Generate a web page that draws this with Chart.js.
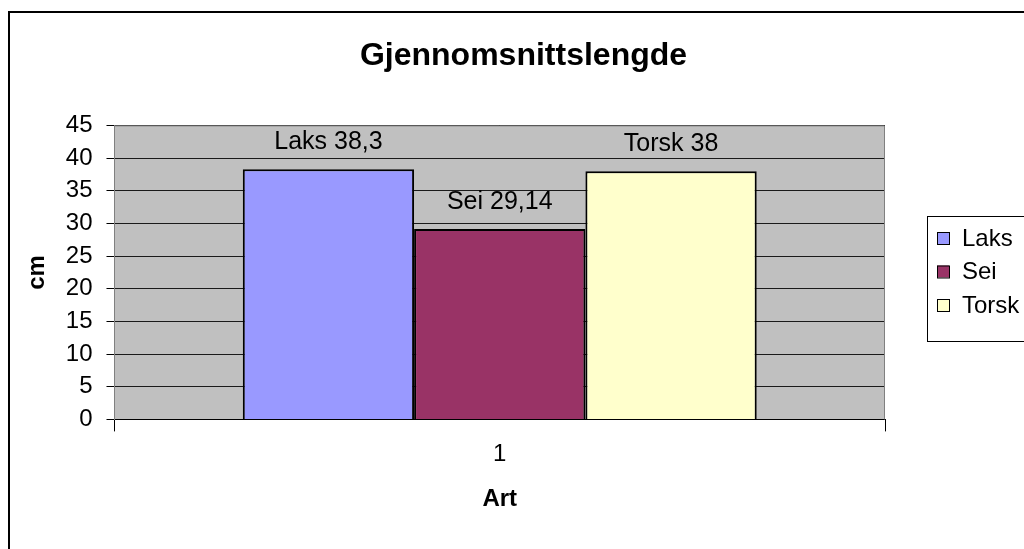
<!DOCTYPE html>
<html>
<head>
<meta charset="utf-8">
<script src="https://cdn.jsdelivr.net/npm/chart.js@4.4.0/dist/chart.umd.min.js"></script>
<style>
  body { margin: 0; background: #fff; }
  #wrap { width: 1024px; height: 549px; }
</style>
</head>
<body>
<div id="wrap"><canvas id="chart" width="1024" height="549"></canvas></div>
<script>
// Data
const categories = ['1'];
const seriesNames = ['Laks', 'Sei', 'Torsk'];
const laksValues = [38.3];
const seiValues = [29.14];
const torskValues = [38];
const yTicks = [0, 5, 10, 15, 20, 25, 30, 35, 40, 45];

const seriesColors = ['#9999FF', '#993366', '#FFFFCC'];
const FONT = "'Liberation Sans', Arial, sans-serif";

// Grå plottflate + ramme rundt hele diagrammet
const backgroundPlugin = {
    id: 'background',
    beforeDraw(chart) {
        const { ctx, chartArea: a } = chart;
        ctx.save();
        ctx.fillStyle = '#C0C0C0';
        ctx.fillRect(a.left, a.top, a.right - a.left, a.bottom - a.top);
        ctx.restore();
    },
    beforeDatasetsDraw(chart) {
        const { ctx, chartArea: a } = chart;
        ctx.save();
        ctx.strokeStyle = '#808080';
        ctx.lineWidth = 1;
        ctx.beginPath();
        ctx.moveTo(a.left, a.top + 0.5);
        ctx.lineTo(a.right - 0.5, a.top + 0.5);
        ctx.lineTo(a.right - 0.5, a.bottom);
        ctx.stroke();
        ctx.restore();
    },
    afterDraw(chart) {
        const ctx = chart.ctx;
        ctx.save();
        ctx.strokeStyle = '#000';
        ctx.lineWidth = 2;
        ctx.strokeRect(9, 12, 1100, 600);
        ctx.restore();
    }
};

// Etiketter over søylene, f.eks. "Laks 38,3"
const labelPlugin = {
    id: 'barLabels',
    afterDatasetsDraw(chart) {
        const ctx = chart.ctx;
        ctx.save();
        ctx.font = '25px ' + FONT;
        ctx.fillStyle = '#000';
        ctx.textAlign = 'center';
        ctx.textBaseline = 'middle';
        chart.data.datasets.forEach((ds, i) => {
            chart.getDatasetMeta(i).data.forEach((bar, j) => {
                const txt = ds.label + ' ' + String(ds.data[j]).replace('.', ',');
                ctx.fillText(txt, bar.x, bar.y - 27);
            });
        });
        ctx.restore();
    }
};

// Forklaring til høyre med ramme
const legendPlugin = {
    id: 'boxLegend',
    afterDraw(chart) {
        const { ctx, chartArea: a } = chart;
        const left = a.right + 42;
        const top = 216;
        const rowH = 33.5;
        ctx.save();
        ctx.strokeStyle = '#000';
        ctx.lineWidth = 1;
        ctx.strokeRect(left + 0.5, top + 0.5, 200, 125);
        ctx.font = '24px ' + FONT;
        ctx.textBaseline = 'middle';
        chart.data.datasets.forEach((ds, i) => {
            const cy = top + 22 + i * rowH;
            ctx.fillStyle = ds.backgroundColor;
            ctx.fillRect(left + 10, cy - 6, 12, 12);
            ctx.strokeRect(left + 10.5, cy - 5.5, 12, 12);
            ctx.fillStyle = '#000';
            ctx.fillText(ds.label, left + 35, cy + 1);
        });
        ctx.restore();
    }
};

const allValues = [laksValues, seiValues, torskValues];

new Chart(document.getElementById('chart'), {
    type: 'bar',
    data: {
        labels: categories,
        datasets: seriesNames.map((name, i) => ({
            label: name,
            data: allValues[i],
            backgroundColor: seriesColors[i],
            borderColor: '#000',
            borderWidth: 2,
            categoryPercentage: 0.667,
            barPercentage: 1
        }))
    },
    options: {
        responsive: false,
        animation: false,
        layout: { padding: { left: 23, right: 0, top: 0, bottom: 35 } },
        plugins: {
            legend: { display: false },
            tooltip: { enabled: false },
            title: {
                display: true,
                text: 'Gjennomsnittslengde',
                color: '#000',
                font: { family: FONT, size: 32, weight: 'bold' },
                padding: { top: 37, bottom: 50 }
            }
        },
        scales: {
            x: {
                grid: {
                    offset: true,
                    drawOnChartArea: false,
                    drawTicks: true,
                    tickLength: 12,
                    color: '#000'
                },
                border: { color: '#000', width: 1 },
                ticks: { color: '#000', font: { family: FONT, size: 24 }, padding: 8.5 },
                title: {
                    display: true,
                    text: 'Art',
                    color: '#000',
                    font: { family: FONT, size: 24, weight: 'bold' },
                    padding: { top: 8, bottom: 0 }
                }
            },
            y: {
                min: 0,
                max: 45,
                afterBuildTicks(scale) {
                    scale.ticks = yTicks.map(v => ({ value: v }));
                },
                grid: {
                    color: '#1a1a1a',
                    tickColor: '#000',
                    tickLength: 8
                },
                border: { color: '#808080', width: 1 },
                ticks: { color: '#000', font: { family: FONT, size: 24 }, padding: 14 },
                title: {
                    display: true,
                    text: 'cm',
                    color: '#000',
                    font: { family: FONT, size: 24, weight: 'bold' },
                    padding: { top: 0, bottom: 0 }
                }
            },
            // tom akse til høyre, holder plass til forklaringen
            legendSpace: {
                type: 'linear',
                position: 'right',
                grid: { display: false },
                ticks: { display: false },
                border: { display: false },
                afterFit(scale) {
                    scale.width = 139;
                }
            }
        }
    },
    plugins: [backgroundPlugin, labelPlugin, legendPlugin]
});
</script>
</body>
</html>
